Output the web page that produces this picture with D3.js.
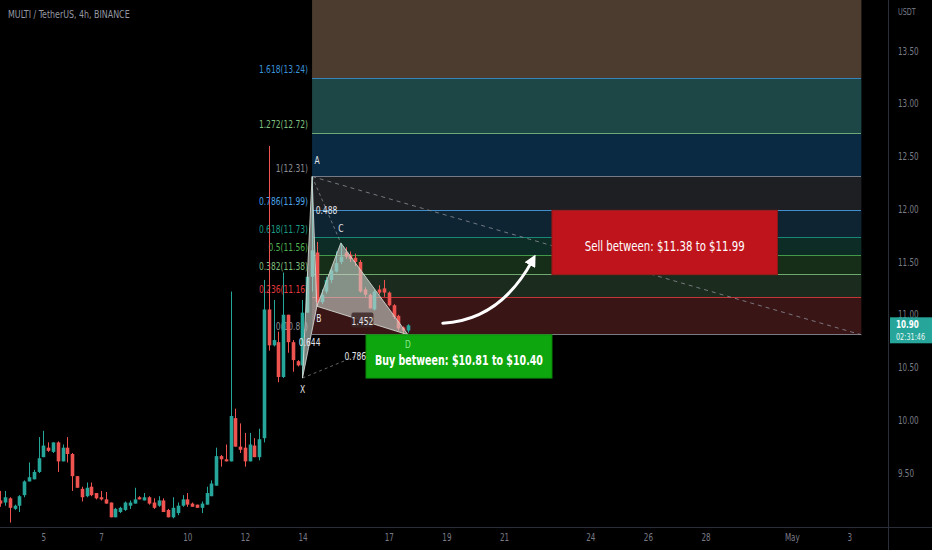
<!DOCTYPE html>
<html><head><meta charset="utf-8">
<script src="https://cdn.jsdelivr.net/npm/d3@7"></script>
<style>
html,body{margin:0;padding:0;background:#000;}
svg{display:block;}
text{font-family:"DejaVu Sans Condensed","Liberation Sans Narrow","DejaVu Sans",Roboto,sans-serif;}
</style></head><body>
<svg id="chart" width="932" height="550"></svg>
<script>
// ---------- DATA ----------
const title = "MULTI / TetherUS, 4h, BINANCE";
const quoteUnit = "USDT";
const firstCandle = "2022-04-03T12:00:00Z";
const candleHours = 4;
const opens  = [9.24,9.22,9.26,9.16,9.19,9.29,9.42,9.44,9.51,9.65,9.74,9.70,9.79,9.61,9.74,9.68,9.47,9.35,9.28,9.37,
                9.31,9.27,9.25,9.22,9.08,9.13,9.15,9.19,9.21,9.27,9.24,9.27,9.22,9.19,9.24,9.15,9.08,9.12,9.19,9.25,
                9.21,9.20,9.17,9.20,9.28,9.38,9.66,9.63,9.61,10.02,9.75,9.74,9.61,9.76,9.65,9.83,11.05,10.71,10.74,10.41,
                11.00,10.74,10.56,10.52,11.02,11.36,11.59,11.12,11.22,11.33,11.41,11.50,11.59,11.57,11.54,11.50,11.24,11.19,11.05,11.24,
                11.25,11.21,11.09,10.99,10.88,10.85];
const highs  = [9.33,9.33,9.27,9.20,9.29,9.43,9.60,9.53,9.84,9.90,9.79,9.79,9.80,9.77,9.84,9.69,9.47,9.37,9.41,9.41,
                9.31,9.33,9.32,9.22,9.17,9.18,9.23,9.24,9.36,9.28,9.31,9.28,9.26,9.28,9.26,9.16,9.27,9.22,9.29,9.31,
                9.22,9.20,9.23,9.37,9.43,9.74,9.67,9.77,11.22,10.11,9.97,9.88,9.88,9.83,9.92,11.33,12.60,11.14,10.84,11.40,
                11.00,10.76,10.57,11.14,11.40,12.31,11.69,11.24,11.36,11.44,11.60,11.68,11.64,11.60,11.58,11.52,11.26,11.20,11.24,11.28,
                11.33,11.22,11.10,11.00,10.89,10.91];
const lows   = [9.18,9.19,9.03,9.15,9.13,9.27,9.42,9.44,9.50,9.65,9.70,9.69,9.51,9.61,9.60,9.33,9.36,9.23,9.27,9.28,
                9.25,9.24,9.21,9.08,9.08,9.12,9.14,9.16,9.21,9.25,9.24,9.20,9.16,9.18,9.13,9.08,9.07,9.10,9.18,9.18,
                9.18,9.17,9.12,9.20,9.28,9.38,9.56,9.61,9.61,9.75,9.69,9.56,9.61,9.65,9.62,9.79,10.66,10.70,10.36,10.40,
                10.64,10.46,10.51,10.40,11.02,11.22,11.08,11.10,11.20,11.30,11.40,11.48,11.53,11.50,11.46,11.21,11.17,11.06,11.04,11.19,
                11.17,11.08,10.96,10.85,10.81,10.83];
const closes = [9.21,9.27,9.17,9.19,9.28,9.42,9.46,9.51,9.64,9.76,9.71,9.79,9.61,9.74,9.68,9.47,9.36,9.27,9.36,9.29,
                9.26,9.25,9.21,9.08,9.16,9.17,9.22,9.22,9.25,9.25,9.27,9.21,9.17,9.24,9.13,9.08,9.17,9.19,9.25,9.20,
                9.18,9.17,9.21,9.31,9.40,9.66,9.63,9.61,10.04,9.75,9.72,9.61,9.77,9.65,9.82,11.05,10.71,10.76,10.41,11.00,
                10.74,10.57,10.52,11.02,11.36,11.61,11.12,11.19,11.33,11.42,11.49,11.55,11.55,11.53,11.50,11.22,11.19,11.06,11.22,11.21,
                11.21,11.09,10.98,10.87,10.85,10.90];

const priceTicks = [9.5,10,10.5,11,11.5,12,12.5,13,13.5];
const dateTicks = ["2022-04-05","2022-04-07","2022-04-10","2022-04-12","2022-04-14","2022-04-17","2022-04-19",
                   "2022-04-21","2022-04-24","2022-04-26","2022-04-28","2022-05-01","2022-05-03"];

// Fibonacci retracement (A = level 1, level 0 at D)
const fibStart = "2022-04-14T08:00:00Z";
const fibEnd   = "2022-05-03T10:00:00Z";
const fibLevels = [0,0.236,0.382,0.5,0.618,0.786,1,1.272,1.618,2.618];
const fibPrices = [10.81,11.16,11.38,11.56,11.73,11.99,12.31,12.72,13.24,14.74];
const fibLabelColors = ["#8a8d96","#e0393e","#7fbf7f","#4caf50","#1a9a85","#4aa3e8","#8a8d96","#7fbf7f","#3a92d8","#f23645"];
const fibZoneColors  = ["#3a1516","#1b2b1d","#162d17","#0d2c25","#0f2433","#1e1f23","#0a2a44","#1d4646","#4c3c2f"];

// XABCD pattern
const patternNames  = ["X","A","B","C","D"];
const patternTimes  = ["2022-04-14T00:00:00Z","2022-04-14T08:00:00Z","2022-04-14T12:00:00Z","2022-04-15T08:00:00Z","2022-04-17T16:00:00Z"];
const patternPrices = [10.40,12.31,11.08,11.68,10.81];
const patternRatios = [["X","B","0.644"],["A","C","0.488"],["B","D","1.452"],["X","D","0.786"]];

// Annotations
const sellBox = {t0:"2022-04-22T16:00:00Z", t1:"2022-04-30T12:00:00Z", p0:11.38, p1:11.99, text:"Sell between: $11.38 to $11.99"};
const buyBox  = {t0:"2022-04-16T05:00:00Z", t1:"2022-04-22T16:00:00Z", p0:10.40, p1:10.81, text:"Buy between: $10.81 to $10.40"};
const arrowTimes  = ["2022-04-18T21:00:00Z","2022-04-20T21:00:00Z","2022-04-22T00:00:00Z"];
const arrowPrices = [10.92,10.95,11.52];
const lastPrice = 10.90;
const countdown = "02:31:46";

// ---------- CHART ----------
const W = 932, H = 550, plotR = 888, plotB = 527;
const svg = d3.select("#chart");
svg.append("rect").attr("width",W).attr("height",H).attr("fill","#000");
const defs = svg.append("defs");

const x = d3.scaleUtc().domain([new Date("2022-04-05T00:00:00Z"), new Date("2022-05-03T00:00:00Z")]).range([43.4, 849.4]);
const y = d3.scaleLinear().domain([9.5, 13.5]).range([473, 51]);

const t0 = new Date(firstCandle).getTime();
const candles = opens.map((o,i)=>({t:new Date(t0 + i*candleHours*3600e3), o, h:highs[i], l:lows[i], c:closes[i]}));

defs.append("clipPath").attr("id","plot").append("rect").attr("x",0).attr("y",0).attr("width",plotR).attr("height",plotB);
const g = svg.append("g").attr("clip-path","url(#plot)");

// fib zones
const fx0 = x(new Date(fibStart)), fx1 = x(new Date(fibEnd));
for (let i=0;i<fibZoneColors.length;i++){
  const ya = Math.max(0,y(fibPrices[i+1])), yb = y(fibPrices[i]);
  g.append("rect").attr("x",fx0).attr("y",ya).attr("width",fx1-fx0).attr("height",yb-ya).attr("fill",fibZoneColors[i]);
}
fibLevels.forEach((lv,i)=>{
  const yy = y(fibPrices[i]);
  if (yy < 0) return;
  g.append("line").attr("x1",fx0).attr("x2",fx1).attr("y1",yy).attr("y2",yy)
    .attr("stroke",fibLabelColors[i]).attr("stroke-opacity",0.85).attr("stroke-width",1).attr("shape-rendering","crispEdges");
  g.append("text").attr("x",fx0-4).attr("y",yy-5).attr("text-anchor","end")
    .attr("font-size",10.5).attr("fill",fibLabelColors[i]).text(`${lv}(${fibPrices[i].toFixed(2)})`);
});
// fib trend line
g.append("line").attr("x1",fx0).attr("y1",y(fibPrices[6])).attr("x2",fx1).attr("y2",y(fibPrices[0]))
  .attr("stroke","#8a8d96").attr("stroke-width",1).attr("stroke-dasharray","4,4").attr("stroke-opacity",0.8);

// candles
const up = "#26a69a", dn = "#ef5350";
const cg = g.append("g");
cg.selectAll("line.w").data(candles).join("line")
  .attr("x1",d=>Math.round(x(d.t))+0.5).attr("x2",d=>Math.round(x(d.t))+0.5)
  .attr("y1",d=>y(d.h)).attr("y2",d=>y(d.l))
  .attr("stroke",d=>d.c>=d.o?up:dn).attr("stroke-width",1);
cg.selectAll("rect.b").data(candles).join("rect")
  .attr("x",d=>Math.round(x(d.t))-1.3).attr("width",3.6)
  .attr("y",d=>y(Math.max(d.o,d.c))).attr("height",d=>Math.max(1,Math.abs(y(d.o)-y(d.c))))
  .attr("fill",d=>d.c>=d.o?up:dn);

// pattern
const P = {};
patternNames.forEach((n,i)=>P[n]=[x(new Date(patternTimes[i])), y(patternPrices[i])]);
const pg = g.append("g");
[["X","A","B"],["B","C","D"]].forEach(tri=>{
  pg.append("path").attr("d","M"+tri.map(n=>P[n].join(",")).join("L")+"Z")
    .attr("fill","rgba(205,212,205,0.6)").attr("stroke","rgba(215,220,215,0.85)").attr("stroke-width",1);
});
patternRatios.forEach(([a,b])=>{
  const dashed = !((a==="X"&&b==="B")||(a==="B"&&b==="D"));
  if (dashed) pg.append("line").attr("x1",P[a][0]).attr("y1",P[a][1]).attr("x2",P[b][0]).attr("y2",P[b][1])
     .attr("stroke","rgba(215,220,215,0.45)").attr("stroke-dasharray","3,3");
});

// boxes
function box(b, fill, stroke, bold, tw){
  const xa=x(new Date(b.t0)), xb=x(new Date(b.t1)), ya=y(b.p1), yb=y(b.p0);
  g.append("rect").attr("x",xa).attr("y",ya).attr("width",xb-xa).attr("height",yb-ya).attr("fill",fill).attr("stroke",stroke);
  g.append("text").attr("x",(xa+xb)/2).attr("y",(ya+yb)/2+9).attr("text-anchor","middle").attr("font-size",14)
    .attr("font-weight",bold?"bold":"normal").attr("fill","#fff").attr("data-tw",tw).text(b.text);
}
box(sellBox,"#c0141c","#8e1a1a",false,160);
box(buyBox,"#0ea60e","#0c8f0c",true,168);

// pattern labels on top
patternRatios.forEach(([a,b,lab])=>{
  const mx=(P[a][0]+P[b][0])/2, my=(P[a][1]+P[b][1])/2;
  if (lab==="1.452") pg.append("rect").attr("x",mx-11).attr("y",my-8).attr("width",22).attr("height",15).attr("rx",2).attr("fill","rgba(60,40,40,0.85)");
  g.append("text").attr("x",mx).attr("y",my+4).attr("text-anchor","middle").attr("font-size",10.5).attr("fill","#e4e6ea").text(lab);
});
const labOff = {X:[0,15],A:[5,-13],B:[2,16],C:[0,-11],D:[0,13]};
patternNames.forEach(n=>{
  g.append("text").attr("x",P[n][0]+labOff[n][0]).attr("y",P[n][1]+labOff[n][1]).attr("text-anchor","middle")
    .attr("font-size",10.5).attr("fill",n==="D"?"#8ee88e":"#e4e6ea").text(n);
});

// arrow
defs.append("marker").attr("id","ah").attr("viewBox","0 0 10 10").attr("refX",5).attr("refY",5)
  .attr("markerWidth",4).attr("markerHeight",4).attr("orient","auto")
  .append("path").attr("d","M0,0L10,5L0,10Z").attr("fill","#fff");
const ap = d3.path();
const A0=[x(new Date(arrowTimes[0])),y(arrowPrices[0])], A1=[x(new Date(arrowTimes[1])),y(arrowPrices[1])], A2=[x(new Date(arrowTimes[2])),y(arrowPrices[2])];
ap.moveTo(...A0); ap.quadraticCurveTo(...A1,...A2);
g.append("path").attr("d",ap.toString()).attr("fill","none").attr("stroke","#fff").attr("stroke-width",3)
  .attr("stroke-linecap","round").attr("marker-end","url(#ah)");

// axes
svg.append("line").attr("x1",plotR+0.5).attr("x2",plotR+0.5).attr("y1",0).attr("y2",H).attr("stroke","#2a2e39");
svg.append("line").attr("x1",0).attr("x2",W).attr("y1",plotB+0.5).attr("y2",plotB+0.5).attr("stroke","#2a2e39");

const yAx = svg.append("g").attr("transform",`translate(${plotR},0)`)
  .call(d3.axisRight(y).tickValues(priceTicks).tickSize(0).tickPadding(10).tickFormat(d3.format(".2f")));
yAx.select(".domain").remove();
yAx.selectAll("text").attr("fill","#787b86").attr("font-size",10).attr("font-family",null);

const xAx = svg.append("g").attr("transform",`translate(0,${plotB})`)
  .call(d3.axisBottom(x).tickValues(dateTicks.map(d=>new Date(d+"T00:00:00Z"))).tickSize(0).tickPadding(7)
    .tickFormat(d=>d.getUTCDate()===1?d3.utcFormat("%b")(d):d.getUTCDate()));
xAx.select(".domain").remove();
xAx.selectAll("text").attr("fill","#787b86").attr("font-size",10).attr("font-family",null);

svg.append("text").attr("x",898).attr("y",15).attr("font-size",9).attr("fill","#787b86").text(quoteUnit);
svg.append("text").attr("x",8).attr("y",18).attr("font-size",11).attr("fill","#9598a1").text(title);

// last price tag
const lp = y(lastPrice);
svg.append("rect").attr("x",plotR+2).attr("y",lp-8).attr("width",42).attr("height",26).attr("fill","#26a69a");
svg.append("text").attr("x",plotR+8).attr("y",lp+3).attr("font-size",10).attr("font-weight","bold").attr("fill","#fff").text(lastPrice.toFixed(2));
svg.append("text").attr("x",plotR+8).attr("y",lp+15).attr("font-size",9).attr("fill","#e8f6f4").text(countdown);

// narrow the text like the reference's condensed UI font
svg.selectAll("text").each(function(){
  const L = this.getComputedTextLength();
  const tw = this.getAttribute("data-tw");
  this.setAttribute("textLength", tw ? +tw : L*0.8);
  this.setAttribute("lengthAdjust","spacingAndGlyphs");
});
</script>
</body></html>
